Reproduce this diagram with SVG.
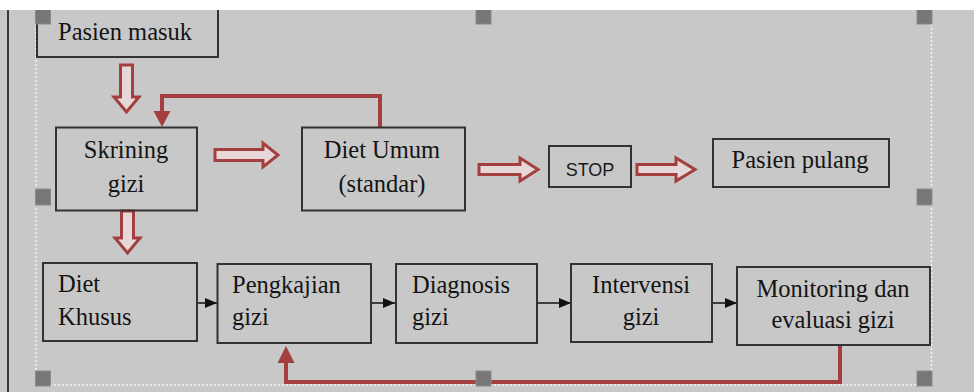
<svg xmlns="http://www.w3.org/2000/svg" width="974" height="392" viewBox="0 0 974 392">
<defs>
<style>
.bg{fill:#c8c8c8}
.box{fill:none;stroke:#333;stroke-width:2}
.t{font-family:"Liberation Serif","Times New Roman",serif;font-size:24.5px;fill:#141414}
.tc{text-anchor:middle}
.s{font-family:"Liberation Sans",Arial,sans-serif;font-size:18px;fill:#1a1a1a;text-anchor:middle}
.blk{fill:#e6d8d8;stroke:#a3403f;stroke-width:3;stroke-linejoin:miter}
.fb{fill:none;stroke:#a3403f;stroke-width:4}
.bl{fill:none;stroke:#111;stroke-width:1.5}
.h{fill:#777;stroke:#8a8a8a;stroke-width:1}
.dot{fill:none;stroke:#f4f4f4;stroke-width:1.5;stroke-dasharray:2 2}
</style>
<marker id="ra" markerWidth="8" markerHeight="8" refX="8" refY="4" orient="auto" markerUnits="userSpaceOnUse" viewBox="0 0 8 8">
<path d="M0,0 L8,4 L0,8 Z" fill="#a3403f"/>
</marker>
<marker id="ka" markerWidth="12" markerHeight="10" refX="12" refY="5" orient="auto" markerUnits="userSpaceOnUse" viewBox="0 0 12 10">
<path d="M0,0 L12,5 L0,10 Z" fill="#111"/>
</marker>
</defs>
<rect class="bg" x="0" y="0" width="974" height="392"/>
<line x1="8" y1="10" x2="8" y2="392" stroke="#3a3a3a" stroke-width="2"/>
<line class="dot" x1="36" y1="24" x2="36" y2="371"/>
<line class="dot" x1="931.5" y1="24" x2="931.5" y2="371"/>
<line class="dot" x1="50" y1="385" x2="917" y2="385"/>

<g id="connectors">
<path class="blk" d="M120.5,65 L132.5,65 L132.5,97 L139,97 L126.5,112 L114,97 L120.5,97 Z"/>
<path class="blk" d="M121.5,211 L133.5,211 L133.5,238 L140,238 L127.5,253 L115,238 L121.5,238 Z"/>
<path class="blk" d="M215,149.5 L263,149.5 L263,143 L278,155 L263,167 L263,160.5 L215,160.5 Z"/>
<path class="blk" d="M479,164.5 L520,164.5 L520,158 L538,169.5 L520,181 L520,174.5 L479,174.5 Z"/>
<path class="blk" d="M637,164.5 L676,164.5 L676,158 L695,169.5 L676,181 L676,174.5 L637,174.5 Z"/>
<path class="fb" d="M380,127 L380,96 L162,96 L162,112"/>
<path d="M153.5,111 L170.5,111 L162,127 Z" fill="#a3403f"/>
<path class="fb" d="M840,345 L840,382 L286,382 L286,362"/>
<path d="M277.5,363 L294.5,363 L286,346 Z" fill="#a3403f"/>
<line class="bl" x1="197" y1="303" x2="217" y2="303" marker-end="url(#ka)"/>
<line class="bl" x1="371" y1="303" x2="395" y2="303" marker-end="url(#ka)"/>
<line class="bl" x1="537" y1="303" x2="571" y2="303" marker-end="url(#ka)"/>
<line class="bl" x1="712" y1="303" x2="737" y2="303" marker-end="url(#ka)"/>
</g>

<g id="pasien-masuk">
<rect class="box" x="37" y="4" width="181" height="53"/>
<text class="t" x="58" y="40">Pasien masuk</text>
</g>
<g id="skrining-gizi">
<rect class="box" x="56" y="127.5" width="141" height="83"/>
<text class="t tc" x="126" y="158">Skrining</text>
<text class="t tc" x="126" y="192">gizi</text>
</g>
<g id="diet-umum">
<rect class="box" x="302" y="127.5" width="163" height="83"/>
<text class="t tc" x="382" y="158">Diet Umum</text>
<text class="t tc" x="382" y="192">(standar)</text>
</g>
<g id="stop">
<rect class="box" x="549" y="146" width="82" height="41"/>
<text class="s" x="590" y="176">STOP</text>
</g>
<g id="pasien-pulang">
<rect class="box" x="713" y="139" width="176" height="48"/>
<text class="t tc" x="800" y="168">Pasien pulang</text>
</g>
<g id="diet-khusus">
<rect class="box" x="43" y="263" width="154" height="78"/>
<text class="t" x="58" y="292">Diet</text>
<text class="t" x="58" y="325">Khusus</text>
</g>
<g id="pengkajian-gizi">
<rect class="box" x="217.5" y="264" width="153.5" height="79"/>
<text class="t" x="232" y="293">Pengkajian</text>
<text class="t" x="232" y="325">gizi</text>
</g>
<g id="diagnosis-gizi">
<rect class="box" x="396" y="264" width="141" height="79"/>
<text class="t" x="412" y="293">Diagnosis</text>
<text class="t" x="412" y="325">gizi</text>
</g>
<g id="intervensi-gizi">
<rect class="box" x="571" y="264" width="141" height="78"/>
<text class="t tc" x="641" y="293">Intervensi</text>
<text class="t tc" x="641" y="325">gizi</text>
</g>
<g id="monitoring-evaluasi">
<rect class="box" x="737" y="267" width="193" height="78"/>
<text class="t tc" x="833" y="297">Monitoring dan</text>
<text class="t tc" x="833" y="328">evaluasi gizi</text>
</g>

<rect class="h" x="35.5" y="9" width="15" height="15"/>
<rect class="h" x="476" y="9" width="15" height="15"/>
<rect class="h" x="917" y="9" width="15" height="15"/>
<rect class="h" x="35.5" y="189" width="15" height="16"/>
<rect class="h" x="917" y="189" width="15" height="16"/>
<rect class="h" x="35.5" y="371" width="15" height="15"/>
<rect class="h" x="476" y="371" width="15" height="15"/>
<rect class="h" x="917" y="371" width="15" height="15"/>
<rect x="0" y="0" width="974" height="10" fill="#ffffff"/>
</svg>
